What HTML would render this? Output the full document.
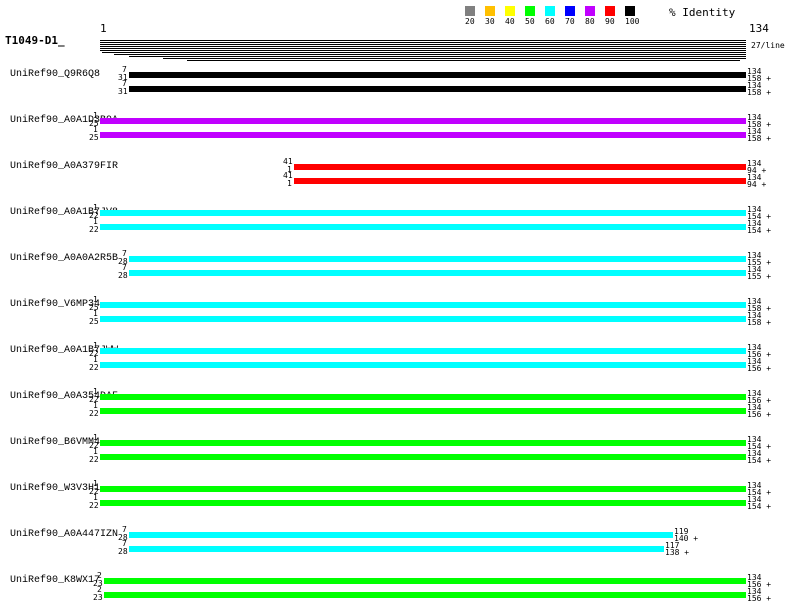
<!DOCTYPE html><html><head><meta charset="utf-8"><style>
body{margin:0;width:800px;height:600px;background:#fff;position:relative;overflow:hidden;font-family:"DejaVu Sans Mono","Liberation Mono",monospace;color:#000}
div{position:absolute;white-space:nowrap}
.l{height:1px;background:#000}
.b{height:6px}
.n{font-size:8px;line-height:8px}
.lab{font-family:"Liberation Mono",monospace;font-size:10px;line-height:12px;left:10px}
.sw{width:10px;height:10px;top:6px}
.sn{font-size:8px;top:17px}
</style></head><body>
<div class="sw" style="left:465px;background:#808080"></div><div class="sn" style="left:465px">20</div>
<div class="sw" style="left:485px;background:#ffc000"></div><div class="sn" style="left:485px">30</div>
<div class="sw" style="left:505px;background:#ffff00"></div><div class="sn" style="left:505px">40</div>
<div class="sw" style="left:525px;background:#00ff00"></div><div class="sn" style="left:525px">50</div>
<div class="sw" style="left:545px;background:#00ffff"></div><div class="sn" style="left:545px">60</div>
<div class="sw" style="left:565px;background:#0000ff"></div><div class="sn" style="left:565px">70</div>
<div class="sw" style="left:585px;background:#c000ff"></div><div class="sn" style="left:585px">80</div>
<div class="sw" style="left:605px;background:#ff0000"></div><div class="sn" style="left:605px">90</div>
<div class="sw" style="left:625px;background:#000"></div><div class="sn" style="left:625px">100</div>
<div style="left:669px;top:6px;font-size:11px">% Identity</div>
<div style="left:100px;top:22px;font-size:11px">1</div>
<div style="left:749px;top:22px;font-size:11px">134</div>
<div style="left:5px;top:34px;font-size:11px;font-weight:bold">T1049-D1_</div>
<div style="left:751px;top:41px;font-size:8px">27/line</div>
<div class="l" style="left:100px;width:646px;top:40px"></div>
<div class="l" style="left:100px;width:646px;top:42px"></div>
<div class="l" style="left:100px;width:646px;top:44px"></div>
<div class="l" style="left:100px;width:646px;top:46px"></div>
<div class="l" style="left:100px;width:646px;top:48px"></div>
<div class="l" style="left:100px;width:646px;top:50px"></div>
<div class="l" style="left:102px;width:644px;top:52px"></div>
<div class="l" style="left:114px;width:632px;top:54px"></div>
<div class="l" style="left:129px;width:617px;top:56px"></div>
<div class="l" style="left:163px;width:583px;top:58px"></div>
<div class="l" style="left:187px;width:553px;top:60px"></div>

<div class="lab" style="top:69px">UniRef90_Q9R6Q8</div>
<div class="b" style="left:129px;width:617px;top:72px;background:#000"></div>
<div class="b" style="left:129px;width:617px;top:86px;background:#000"></div>
<div class="n" style="left:122px;top:66px">7</div><div class="n" style="left:118px;top:74px">31</div>
<div class="n" style="left:122px;top:80px">7</div><div class="n" style="left:118px;top:88px">31</div>
<div class="n" style="left:747px;top:68px">134</div><div class="n" style="left:747px;top:75px">158 +</div>
<div class="n" style="left:747px;top:82px">134</div><div class="n" style="left:747px;top:89px">158 +</div>

<div class="lab" style="top:115px">UniRef90_A0A1D3B9A</div>
<div class="b" style="left:100px;width:646px;top:118px;background:#c000ff"></div>
<div class="b" style="left:100px;width:646px;top:132px;background:#c000ff"></div>
<div class="n" style="left:93px;top:112px">1</div><div class="n" style="left:89px;top:120px">25</div>
<div class="n" style="left:93px;top:126px">1</div><div class="n" style="left:89px;top:134px">25</div>
<div class="n" style="left:747px;top:114px">134</div><div class="n" style="left:747px;top:121px">158 +</div>
<div class="n" style="left:747px;top:128px">134</div><div class="n" style="left:747px;top:135px">158 +</div>

<div class="lab" style="top:161px">UniRef90_A0A379FIR</div>
<div class="b" style="left:294px;width:452px;top:164px;background:#f00"></div>
<div class="b" style="left:294px;width:452px;top:178px;background:#f00"></div>
<div class="n" style="left:283px;top:158px">41</div><div class="n" style="left:287px;top:166px">1</div>
<div class="n" style="left:283px;top:172px">41</div><div class="n" style="left:287px;top:180px">1</div>
<div class="n" style="left:747px;top:160px">134</div><div class="n" style="left:747px;top:167px">94 +</div>
<div class="n" style="left:747px;top:174px">134</div><div class="n" style="left:747px;top:181px">94 +</div>

<div class="lab" style="top:207px">UniRef90_A0A1B7JV8</div>
<div class="b" style="left:100px;width:646px;top:210px;background:#0ff"></div>
<div class="b" style="left:100px;width:646px;top:224px;background:#0ff"></div>
<div class="n" style="left:93px;top:204px">1</div><div class="n" style="left:89px;top:212px">22</div>
<div class="n" style="left:93px;top:218px">1</div><div class="n" style="left:89px;top:226px">22</div>
<div class="n" style="left:747px;top:206px">134</div><div class="n" style="left:747px;top:213px">154 +</div>
<div class="n" style="left:747px;top:220px">134</div><div class="n" style="left:747px;top:227px">154 +</div>

<div class="lab" style="top:253px">UniRef90_A0A0A2R5B</div>
<div class="b" style="left:129px;width:617px;top:256px;background:#0ff"></div>
<div class="b" style="left:129px;width:617px;top:270px;background:#0ff"></div>
<div class="n" style="left:122px;top:250px">7</div><div class="n" style="left:118px;top:258px">28</div>
<div class="n" style="left:122px;top:264px">7</div><div class="n" style="left:118px;top:272px">28</div>
<div class="n" style="left:747px;top:252px">134</div><div class="n" style="left:747px;top:259px">155 +</div>
<div class="n" style="left:747px;top:266px">134</div><div class="n" style="left:747px;top:273px">155 +</div>

<div class="lab" style="top:299px">UniRef90_V6MP34</div>
<div class="b" style="left:100px;width:646px;top:302px;background:#0ff"></div>
<div class="b" style="left:100px;width:646px;top:316px;background:#0ff"></div>
<div class="n" style="left:93px;top:296px">1</div><div class="n" style="left:89px;top:304px">25</div>
<div class="n" style="left:93px;top:310px">1</div><div class="n" style="left:89px;top:318px">25</div>
<div class="n" style="left:747px;top:298px">134</div><div class="n" style="left:747px;top:305px">158 +</div>
<div class="n" style="left:747px;top:312px">134</div><div class="n" style="left:747px;top:319px">158 +</div>

<div class="lab" style="top:345px">UniRef90_A0A1B7JWW</div>
<div class="b" style="left:100px;width:646px;top:348px;background:#0ff"></div>
<div class="b" style="left:100px;width:646px;top:362px;background:#0ff"></div>
<div class="n" style="left:93px;top:342px">1</div><div class="n" style="left:89px;top:350px">22</div>
<div class="n" style="left:93px;top:356px">1</div><div class="n" style="left:89px;top:364px">22</div>
<div class="n" style="left:747px;top:344px">134</div><div class="n" style="left:747px;top:351px">156 +</div>
<div class="n" style="left:747px;top:358px">134</div><div class="n" style="left:747px;top:365px">156 +</div>

<div class="lab" style="top:391px">UniRef90_A0A354DAF</div>
<div class="b" style="left:100px;width:646px;top:394px;background:#0f0"></div>
<div class="b" style="left:100px;width:646px;top:408px;background:#0f0"></div>
<div class="n" style="left:93px;top:388px">1</div><div class="n" style="left:89px;top:396px">22</div>
<div class="n" style="left:93px;top:402px">1</div><div class="n" style="left:89px;top:410px">22</div>
<div class="n" style="left:747px;top:390px">134</div><div class="n" style="left:747px;top:397px">156 +</div>
<div class="n" style="left:747px;top:404px">134</div><div class="n" style="left:747px;top:411px">156 +</div>

<div class="lab" style="top:437px">UniRef90_B6VMM4</div>
<div class="b" style="left:100px;width:646px;top:440px;background:#0f0"></div>
<div class="b" style="left:100px;width:646px;top:454px;background:#0f0"></div>
<div class="n" style="left:93px;top:434px">1</div><div class="n" style="left:89px;top:442px">22</div>
<div class="n" style="left:93px;top:448px">1</div><div class="n" style="left:89px;top:456px">22</div>
<div class="n" style="left:747px;top:436px">134</div><div class="n" style="left:747px;top:443px">154 +</div>
<div class="n" style="left:747px;top:450px">134</div><div class="n" style="left:747px;top:457px">154 +</div>

<div class="lab" style="top:483px">UniRef90_W3V3H1</div>
<div class="b" style="left:100px;width:646px;top:486px;background:#0f0"></div>
<div class="b" style="left:100px;width:646px;top:500px;background:#0f0"></div>
<div class="n" style="left:93px;top:480px">1</div><div class="n" style="left:89px;top:488px">22</div>
<div class="n" style="left:93px;top:494px">1</div><div class="n" style="left:89px;top:502px">22</div>
<div class="n" style="left:747px;top:482px">134</div><div class="n" style="left:747px;top:489px">154 +</div>
<div class="n" style="left:747px;top:496px">134</div><div class="n" style="left:747px;top:503px">154 +</div>

<div class="lab" style="top:529px">UniRef90_A0A447IZN</div>
<div class="b" style="left:129px;width:544px;top:532px;background:#0ff"></div>
<div class="b" style="left:129px;width:535px;top:546px;background:#0ff"></div>
<div class="n" style="left:122px;top:526px">7</div><div class="n" style="left:118px;top:534px">28</div>
<div class="n" style="left:122px;top:540px">7</div><div class="n" style="left:118px;top:548px">28</div>
<div class="n" style="left:674px;top:528px">119</div><div class="n" style="left:674px;top:535px">140 +</div>
<div class="n" style="left:665px;top:542px">117</div><div class="n" style="left:665px;top:549px">138 +</div>

<div class="lab" style="top:575px">UniRef90_K8WX17</div>
<div class="b" style="left:104px;width:642px;top:578px;background:#0f0"></div>
<div class="b" style="left:104px;width:642px;top:592px;background:#0f0"></div>
<div class="n" style="left:97px;top:572px">2</div><div class="n" style="left:93px;top:580px">23</div>
<div class="n" style="left:97px;top:586px">2</div><div class="n" style="left:93px;top:594px">23</div>
<div class="n" style="left:747px;top:574px">134</div><div class="n" style="left:747px;top:581px">156 +</div>
<div class="n" style="left:747px;top:588px">134</div><div class="n" style="left:747px;top:595px">156 +</div>
</body></html>
